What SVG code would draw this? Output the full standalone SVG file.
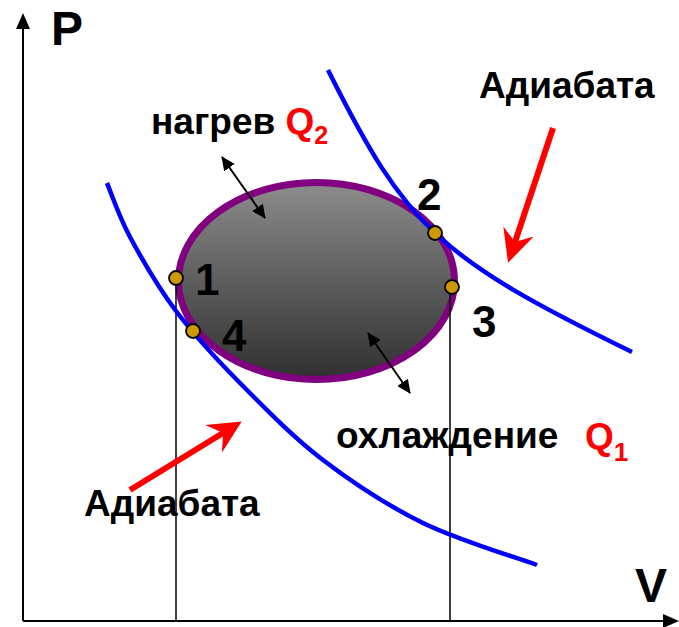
<svg xmlns="http://www.w3.org/2000/svg" width="679" height="627" viewBox="0 0 679 627">
<style>
  .lbl{font-family:"Liberation Sans",Arial,sans-serif;font-weight:bold;fill:#000}
  .red{fill:#ff0000}
  .axis{stroke:#000;stroke-width:2;fill:none}
  .drop{stroke:#000;stroke-width:1.5;fill:none}
  .adi{stroke:#0000ff;stroke-width:4.5;fill:none}
  .dbl{stroke:#000;stroke-width:2;fill:none;marker-start:url(#bk);marker-end:url(#bk)}
  .rarr{stroke:#ff0000;stroke-width:6;fill:none;marker-end:url(#rh)}
  .pt{fill:#cc9900;stroke:#000;stroke-width:1.8}
</style>
<defs>
  <linearGradient id="g" x1="0" y1="0" x2="0" y2="1">
    <stop offset="0" stop-color="#8c8c8c"/>
    <stop offset="1" stop-color="#303030"/>
  </linearGradient>
  <marker id="bk" viewBox="0 -6.5 14 13" refX="13" refY="0" markerWidth="14" markerHeight="13" markerUnits="userSpaceOnUse" orient="auto-start-reverse">
    <path d="M0,-6.5 L14,0 L0,6.5 Z" fill="#000"/>
  </marker>
  <marker id="rh" viewBox="0 -17 33 34" refX="11" refY="0" markerWidth="33" markerHeight="34" markerUnits="userSpaceOnUse" orient="auto">
    <path d="M33,0 L0,-16 L11,0 L0,16 Z" fill="#ff0000"/>
  </marker>
</defs>

<g id="axes">
  <line class="axis" x1="23" y1="621" x2="23" y2="27"/>
  <polygon points="23,13 16,29 30,29" fill="#000"/>
  <line class="axis" x1="23" y1="621" x2="665" y2="621"/>
  <polygon points="679,621 663,614 663,628" fill="#000"/>
  <text class="lbl" x="51" y="45" font-size="48">P</text>
  <text class="lbl" x="635" y="602" font-size="48">V</text>
</g>

<g id="cycle">
  <ellipse cx="316.5" cy="281" rx="138" ry="98.5" fill="url(#g)" stroke="#800080" stroke-width="7"/>
</g>

<g id="connectors">
  <line class="drop" x1="176" y1="284" x2="176" y2="621"/>
  <line class="drop" x1="450" y1="293" x2="450" y2="621"/>
  <path id="adiabat-upper" class="adi" d="M328,70 C407,228 438,257 632,352"/>
  <path id="adiabat-lower" class="adi" d="M107,183 C110.8,192 118.5,215.7 130,237 C141.5,258.3 157.7,286.7 176,311 C194.3,335.3 215.5,358.2 240,383 C264.5,407.8 292.5,436.7 323,460 C353.5,483.3 387.3,505.5 423,523 C458.7,540.5 518,558 537,565"/>
  <line class="dbl" x1="222" y1="157" x2="265" y2="218"/>
  <line class="dbl" x1="368" y1="333" x2="410" y2="393"/>
  <path class="rarr" d="M553,128 L515,242"/>
  <path class="rarr" d="M130,490 L223,433"/>
</g>

<g id="p1"><circle class="pt" cx="176" cy="278" r="7"/><text class="lbl" x="195" y="295" font-size="44">1</text></g>
<g id="p2"><circle class="pt" cx="435" cy="233" r="7"/><text class="lbl" x="417" y="210" font-size="44">2</text></g>
<g id="p3"><circle class="pt" cx="452" cy="287" r="7"/><text class="lbl" x="472" y="337" font-size="44">3</text></g>
<g id="p4"><circle class="pt" cx="193" cy="331" r="7"/><text class="lbl" x="222" y="351" font-size="44">4</text></g>

<g id="labels">
  <text class="lbl" x="151" y="134" font-size="37">нагрев <tspan class="red">Q</tspan><tspan class="red" font-size="25" dy="10">2</tspan></text>
  <text class="lbl" x="479" y="98" font-size="37">Адиабата</text>
  <text class="lbl" x="84" y="516" font-size="37">Адиабата</text>
  <text class="lbl" x="336" y="448" font-size="37">охлаждение</text>
  <text class="lbl red" x="585" y="449" font-size="37">Q<tspan font-size="26" dy="12">1</tspan></text>
</g>
</svg>
